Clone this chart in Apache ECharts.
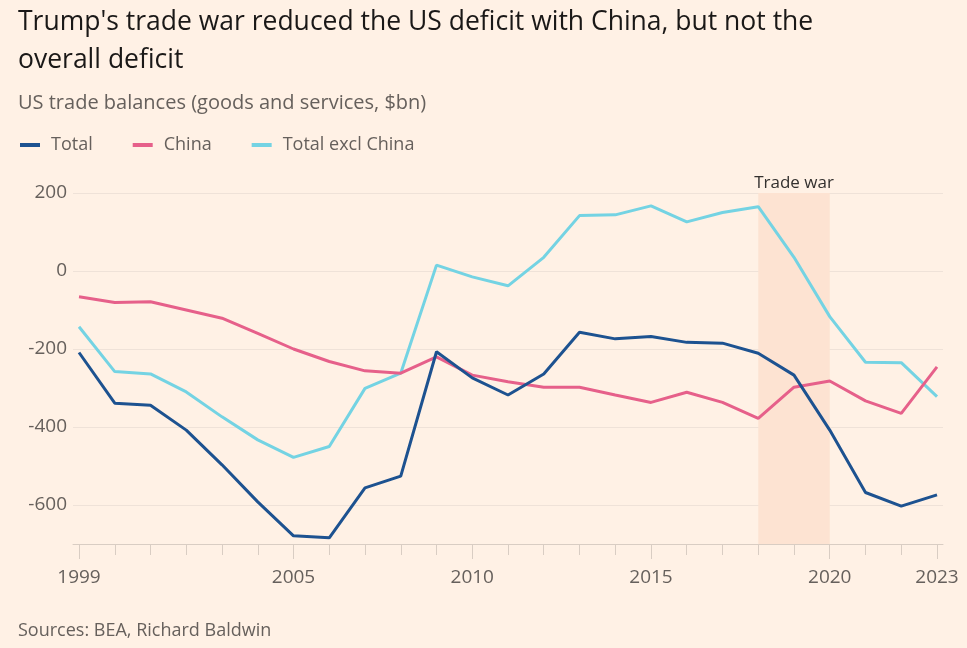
<!DOCTYPE html>
<html>
<head>
<meta charset="utf-8">
<script src="https://cdn.jsdelivr.net/npm/echarts@6/dist/echarts.min.js"></script>
<style>
  html, body { margin: 0; padding: 0; background: #fff1e5; }
  #chart { width: 967px; height: 648px; }
</style>
</head>
<body>
<div id="chart"></div>
<script>
const years = [1999,2000,2001,2002,2003,2004,2005,2006,2007,2008,2009,2010,2011,2012,2013,2014,2015,2016,2017,2018,2019,2020,2021,2022,2023];
const totalValues = [-209,-339,-344,-408,-497,-592,-679,-684,-556,-526,-207,-274,-318,-264,-157,-174,-168,-183,-185,-211,-267,-408,-568,-603,-574];
const chinaValues = [-66,-81,-79,-100,-121,-160,-200,-232,-256,-262,-220,-267,-284,-298,-298,-318,-337,-311,-337,-378,-298,-282,-333,-365,-246];
const exclChinaValues = [-143,-258,-264,-310,-374,-433,-478,-450,-301,-262,15,-15,-38,35,142,144,167,126,150,165,35,-117,-234,-235,-322];
const xLabelYears = [1999,2005,2010,2015,2020,2023];
const yTickValues = [-600,-400,-200,0,200];
const tradeWar = [2018, 2020];

const FONT = "'Open Sans', 'Noto Sans', sans-serif";
const pairs = vals => years.map((y, i) => [y, vals[i]]);

const chart = echarts.init(document.getElementById('chart'), null, {renderer: 'canvas'});
const xCommon = {
  type: 'value', min: 1998.832, max: 2023.168, position: 'bottom',
  splitLine: {show: false}
};
chart.setOption({
  backgroundColor: '#fff1e5',
  animation: false,
  title: [
    {
      text: "Trump's trade war reduced the US deficit with China, but not the\noverall deficit",
      left: 18, top: 3, padding: 0,
      textStyle: {fontFamily: FONT, fontSize: 26.5, fontWeight: 'normal', color: '#1a1817', lineHeight: 38}
    },
    {
      text: 'US trade balances (goods and services, $bn)',
      left: 18, top: 93, padding: 0,
      textStyle: {fontFamily: FONT, fontSize: 20, fontWeight: 'normal', color: '#66605c'}
    },
    {
      text: 'Sources: BEA, Richard Baldwin',
      left: 18, top: 622, padding: 0,
      textStyle: {fontFamily: FONT, fontSize: 18, fontWeight: 'normal', color: '#66605c'}
    }
  ],
  legend: {
    left: 20, top: 136, padding: 0,
    icon: 'rect', itemWidth: 20, itemHeight: 4, itemGap: 40,
    textStyle: {fontFamily: FONT, fontSize: 18, color: '#66605c', padding: [0, 0, 0, 6]},
    data: ['Total', 'China', 'Total excl China']
  },
  grid: {left: 73, right: 24, top: 193, bottom: 104, containLabel: false},
  xAxis: [
    Object.assign({}, xCommon, {
      axisLine: {show: true, onZero: false, lineStyle: {color: '#d9cdc3', width: 1}},
      axisTick: {show: true, length: 11, customValues: years, lineStyle: {color: '#d9cdc3'}},
      axisLabel: {show: false}
    }),
    Object.assign({}, xCommon, {
      axisLine: {show: false, onZero: false},
      axisTick: {show: true, length: 15, customValues: xLabelYears, lineStyle: {color: '#d9cdc3'}},
      axisLabel: {show: true, customValues: xLabelYears, margin: 24, fontFamily: FONT, fontSize: 19, color: '#66605c', formatter: v => String(v)}
    })
  ],
  yAxis: {
    type: 'value', min: -700, max: 200,
    axisLine: {show: false},
    axisTick: {show: false, customValues: yTickValues},
    axisLabel: {customValues: yTickValues, margin: 6, fontFamily: FONT, fontSize: 19, color: '#66605c'},
    splitLine: {show: true, lineStyle: {color: '#efe2d8', width: 1}}
  },
  series: [
    {
      name: 'Total excl China', type: 'line', data: pairs(exclChinaValues), z: 3,
      showSymbol: false, symbol: 'none', lineStyle: {color: '#74d3e3', width: 3}, itemStyle: {color: '#74d3e3'},
      markArea: {
        silent: true,
        itemStyle: {color: '#fde3d2'},
        label: {show: true, position: 'top', distance: 1, fontFamily: FONT, fontSize: 17, color: '#33302e'},
        data: [[{name: 'Trade war', xAxis: tradeWar[0], yAxis: 200}, {xAxis: tradeWar[1], yAxis: -700}]]
      }
    },
    {
      name: 'China', type: 'line', data: pairs(chinaValues), z: 4,
      showSymbol: false, symbol: 'none', lineStyle: {color: '#e6608a', width: 3}, itemStyle: {color: '#e6608a'}
    },
    {
      name: 'Total', type: 'line', data: pairs(totalValues), z: 5,
      showSymbol: false, symbol: 'none', lineStyle: {color: '#1d5290', width: 3}, itemStyle: {color: '#1d5290'}
    }
  ]
});
</script>
</body>
</html>
